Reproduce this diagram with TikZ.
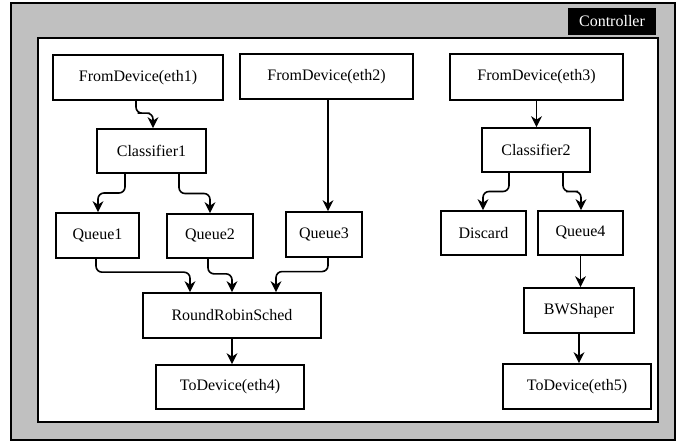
\documentclass[tikz,border=0pt]{standalone}
\usepackage{fontspec}
\setmainfont{Liberation Serif}
\usetikzlibrary{arrows.meta,calc}
\definecolor{panelgray}{HTML}{C0C0C0}
\tikzset{
  blk/.style={draw=black, line width=1.7pt, fill=white, inner sep=0pt,
    font=\fontsize{16}{19}\selectfont},
  arr/.style={draw=black, line width=1.6pt, -{Stealth[length=11pt,width=11pt]}},
  wig/.style={arr, rounded corners=6pt}
}
\begin{document}
\begin{tikzpicture}[x=1pt,y=-1pt]
\useasboundingbox (0,0) rectangle (683,443);
% panels
\draw[fill=panelgray, line width=1.6pt] (11,3) rectangle (675,440);
\node[fill=black, text=white, inner sep=0pt, minimum width=88pt, minimum height=27pt,
  font=\fontsize{16}{19}\selectfont] (ctl) at (612,21.5) {Controller};
\draw[fill=white, line width=2pt] (38,38) rectangle (658,422);
% nodes
\node[blk, minimum width=170pt, minimum height=45pt] (e1) at (138,77.5) {FromDevice(eth1)};
\node[blk, minimum width=173pt, minimum height=45pt] (e2) at (326.5,76.5) {FromDevice(eth2)};
\node[blk, minimum width=173pt, minimum height=46pt] (e3) at (536.5,77) {FromDevice(eth3)};
\node[blk, minimum width=109pt, minimum height=44pt] (c1) at (151.5,151) {Classifier1};
\node[blk, minimum width=108pt, minimum height=44pt] (c2) at (536,150) {Classifier2};
\node[blk, minimum width=83pt, minimum height=45pt] (q1) at (97.5,235.5) {Queue1};
\node[blk, minimum width=86pt, minimum height=44pt] (q2) at (210,236) {Queue2};
\node[blk, minimum width=76pt, minimum height=45pt] (q3) at (324,234.5) {Queue3};
\node[blk, minimum width=85pt, minimum height=44pt] (dis) at (483.5,233) {Discard};
\node[blk, minimum width=85pt, minimum height=44pt] (q4) at (580.5,233) {Queue4};
\node[blk, minimum width=178pt, minimum height=45pt] (rr) at (232,315.5) {RoundRobinSched};
\node[blk, minimum width=148pt, minimum height=44pt] (t4) at (230,387) {ToDevice(eth4)};
\node[blk, minimum width=110pt, minimum height=45pt] (bw) at (579,310.5) {BWShaper};
\node[blk, minimum width=148pt, minimum height=45pt] (t5) at (577,386.5) {ToDevice(eth5)};
% connector end points
\coordinate (a1) at ([xshift=-2pt]e1.south);   \coordinate (b1) at ([xshift=1.5pt]c1.north);
\coordinate (a2) at ([xshift=-26.5pt]c1.south); \coordinate (b2) at ([xshift=0.5pt]q1.north);
\coordinate (a3) at ([xshift=27.5pt]c1.south);  \coordinate (b3) at (q2.north);
\coordinate (a4) at ([xshift=-27pt]c2.south);   \coordinate (b4) at ([xshift=-0.5pt]dis.north);
\coordinate (a5) at ([xshift=27pt]c2.south);    \coordinate (b5) at ([xshift=0.5pt]q4.north);
\coordinate (a6) at ([xshift=-1.5pt]q1.south);  \coordinate (b6) at ([xshift=-42pt]rr.north);
\coordinate (a7) at ([xshift=-2pt]q2.south);    \coordinate (b7) at (rr.north);
\coordinate (a8) at ([xshift=4pt]q3.south);     \coordinate (b8) at ([xshift=44pt]rr.north);
% wiggly connectors
\draw[wig] (a1) |- ($(a1)!0.45!(b1)$) -| (b1);
\draw[wig] (a2) |- ($(a2)!0.5!(b2)$) -| (b2);
\draw[wig] (a3) |- ($(a3)!0.5!(b3)$) -| (b3);
\draw[wig] (a4) |- ($(a4)!0.5!(b4)$) -| (b4);
\draw[wig] (a5) |- ($(a5)!0.5!(b5)$) -| (b5);
\draw[wig] (a6) |- ($(a6)!0.4!(b6)$) -| (b6);
\draw[wig] (a7) |- ($(a7)!0.45!(b7)$) -| (b7);
\draw[wig] (a8) |- ($(a8)!0.4!(b8)$) -| (b8);
% straight connectors
\draw[arr] ([xshift=1.5pt]e2.south) -- ([xshift=4pt]q3.north);
\draw[arr] (e3.south) -- (e3.south |- c2.north);
\draw[arr] (q4.south) -- (q4.south |- bw.north);
\draw[arr] (bw.south) -- (bw.south |- t5.north);
\draw[arr] (rr.south) -- (rr.south |- t4.north);
\end{tikzpicture}
\end{document}
